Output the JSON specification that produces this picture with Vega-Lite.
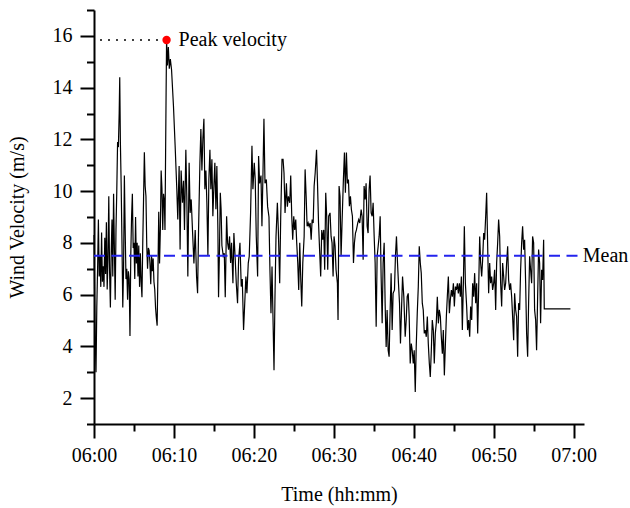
{
"$schema": "https://vega.github.io/schema/vega-lite/v6.json",
"width": 490, "height": 414,
"autosize": "none",
"padding": {"left": 94, "top": 10, "right": 46, "bottom": 84},
"background": "white",
"config": {
  "font": "Liberation Serif",
  "view": {"stroke": null},
  "axis": {"grid": false, "domainColor": "black", "domainWidth": 2, "tickColor": "black", "tickWidth": 2, "labelColor": "black", "titleColor": "black", "labelFont": "Liberation Serif", "titleFont": "Liberation Serif", "labelFontSize": 20, "titleFontSize": 20, "titleFontWeight": "normal"}
},
"datasets": {
"wind": [
{"t":0.00,"v":8.3},{"t":0.08,"v":6.0},{"t":0.15,"v":4.4},{"t":0.25,"v":3.0},{"t":0.35,"v":5.5},{"t":0.45,"v":7.0},{"t":0.55,"v":8.9},{"t":0.65,"v":6.7},{"t":0.75,"v":7.5},{"t":0.85,"v":6.3},{"t":0.95,"v":8.4},{"t":1.05,"v":6.5},{"t":1.15,"v":7.1},{"t":1.25,"v":6.3},{"t":1.35,"v":8.2},{"t":1.45,"v":6.8},{"t":1.55,"v":8.8},{"t":1.65,"v":6.2},{"t":1.75,"v":7.4},{"t":1.85,"v":9.8},{"t":1.95,"v":6.9},{"t":2.05,"v":5.5},{"t":2.15,"v":7.6},{"t":2.25,"v":8.9},{"t":2.35,"v":6.7},{"t":2.45,"v":9.9},{"t":2.55,"v":7.8},{"t":2.65,"v":5.8},{"t":2.75,"v":8.5},{"t":2.85,"v":10.0},{"t":2.95,"v":11.9},{"t":3.05,"v":11.7},{"t":3.15,"v":13.0},{"t":3.22,"v":14.4},{"t":3.30,"v":11.9},{"t":3.40,"v":10.2},{"t":3.50,"v":8.0},{"t":3.60,"v":5.5},{"t":3.70,"v":7.0},{"t":3.80,"v":10.6},{"t":3.90,"v":8.5},{"t":4.00,"v":6.6},{"t":4.10,"v":7.0},{"t":4.20,"v":5.8},{"t":4.30,"v":6.9},{"t":4.40,"v":6.6},{"t":4.50,"v":4.4},{"t":4.60,"v":7.5},{"t":4.70,"v":9.0},{"t":4.80,"v":9.9},{"t":4.90,"v":7.8},{"t":5.00,"v":8.0},{"t":5.10,"v":6.6},{"t":5.20,"v":9.0},{"t":5.30,"v":7.2},{"t":5.40,"v":8.0},{"t":5.50,"v":6.7},{"t":5.60,"v":7.9},{"t":5.70,"v":6.3},{"t":5.80,"v":7.6},{"t":5.90,"v":6.5},{"t":6.00,"v":5.9},{"t":6.10,"v":8.0},{"t":6.20,"v":9.7},{"t":6.30,"v":11.5},{"t":6.40,"v":10.2},{"t":6.50,"v":9.8},{"t":6.60,"v":7.9},{"t":6.70,"v":7.0},{"t":6.80,"v":7.8},{"t":6.90,"v":7.7},{"t":7.00,"v":7.2},{"t":7.10,"v":6.4},{"t":7.20,"v":7.5},{"t":7.30,"v":6.9},{"t":7.40,"v":7.4},{"t":7.50,"v":6.5},{"t":7.60,"v":6.2},{"t":7.70,"v":5.5},{"t":7.80,"v":5.1},{"t":7.90,"v":4.8},{"t":8.00,"v":6.9},{"t":8.10,"v":9.2},{"t":8.20,"v":7.2},{"t":8.30,"v":8.5},{"t":8.40,"v":10.8},{"t":8.50,"v":10.1},{"t":8.60,"v":8.5},{"t":8.70,"v":9.9},{"t":8.80,"v":9.6},{"t":8.88,"v":8.5},{"t":8.96,"v":11.6},{"t":9.02,"v":13.8},{"t":9.08,"v":15.84},
{"t":9.18,"v":14.86},{"t":9.30,"v":15.57},{"t":9.42,"v":14.73},{"t":9.55,"v":15.1},{"t":9.70,"v":14.7},{"t":9.94,"v":13.3},{"t":10.15,"v":11.75},{"t":10.36,"v":10.07},{"t":10.48,"v":8.9},{"t":10.65,"v":10.97},{"t":10.77,"v":7.74},{"t":10.90,"v":10.8},{"t":11.07,"v":9.55},{"t":11.20,"v":10.4},{"t":11.32,"v":8.5},{"t":11.49,"v":11.6},{"t":11.61,"v":9.8},{"t":11.74,"v":6.7},{"t":11.90,"v":11.1},{"t":12.03,"v":9.16},{"t":12.16,"v":9.68},{"t":12.32,"v":8.5},{"t":12.50,"v":7.2},{"t":12.66,"v":8.5},{"t":12.83,"v":6.7},{"t":12.96,"v":6.05},{"t":13.08,"v":8.5},{"t":13.25,"v":11.1},{"t":13.37,"v":12.4},{"t":13.50,"v":10.8},{"t":13.62,"v":12.0},{"t":13.75,"v":12.8},{"t":13.87,"v":10.07},{"t":14.00,"v":10.8},{"t":14.12,"v":9.55},{"t":14.25,"v":7.5},{"t":14.37,"v":10.45},{"t":14.50,"v":11.6},{"t":14.62,"v":10.07},{"t":14.75,"v":11.23},{"t":14.87,"v":9.03},{"t":15.00,"v":10.2},{"t":15.12,"v":11.1},{"t":15.25,"v":9.3},{"t":15.37,"v":10.97},{"t":15.50,"v":8.5},{"t":15.58,"v":5.9},{"t":15.70,"v":7.74},{"t":15.80,"v":9.94},{"t":15.90,"v":9.3},{"t":16.00,"v":7.9},{"t":16.17,"v":7.5},{"t":16.30,"v":7.6},{"t":16.42,"v":5.9},{"t":16.59,"v":9.03},{"t":16.71,"v":8.0},{"t":16.84,"v":7.74},{"t":16.96,"v":8.25},{"t":17.09,"v":7.22},{"t":17.21,"v":8.0},{"t":17.38,"v":6.44},{"t":17.50,"v":8.38},{"t":17.67,"v":7.35},{"t":17.80,"v":6.44},{"t":17.96,"v":5.67},{"t":18.09,"v":7.35},{"t":18.26,"v":8.0},{"t":18.42,"v":6.31},
{"t":18.55,"v":6.6},{"t":18.71,"v":4.63},{"t":18.84,"v":5.54},{"t":19.00,"v":6.7},{"t":19.13,"v":6.05},{"t":19.30,"v":7.22},{"t":19.42,"v":7.48},{"t":19.59,"v":9.16},{"t":19.76,"v":11.75},{"t":19.88,"v":10.07},{"t":20.05,"v":11.1},{"t":20.17,"v":10.45},{"t":20.30,"v":8.25},{"t":20.47,"v":6.7},{"t":20.59,"v":11.36},{"t":20.72,"v":10.3},{"t":20.89,"v":10.6},{"t":21.01,"v":8.64},{"t":21.14,"v":10.7},{"t":21.26,"v":12.8},{"t":21.39,"v":10.3},{"t":21.56,"v":10.45},{"t":21.72,"v":9.4},{"t":21.89,"v":9.0},{"t":22.01,"v":6.96},{"t":22.14,"v":5.28},{"t":22.27,"v":7.09},{"t":22.39,"v":5.15},{"t":22.52,"v":3.08},{"t":22.64,"v":5.92},{"t":22.77,"v":8.25},{"t":22.94,"v":9.55},{"t":23.06,"v":8.5},{"t":23.23,"v":6.44},{"t":23.36,"v":9.03},{"t":23.52,"v":11.23},{"t":23.65,"v":11.23},{"t":23.77,"v":10.7},{"t":23.90,"v":9.16},{"t":24.07,"v":10.3},{"t":24.19,"v":9.4},{"t":24.32,"v":9.8},{"t":24.49,"v":9.55},{"t":24.61,"v":10.6},{"t":24.74,"v":9.03},{"t":24.86,"v":8.12},{"t":24.99,"v":9.03},{"t":25.11,"v":8.5},{"t":25.24,"v":8.9},{"t":25.36,"v":8.0},{"t":25.49,"v":7.22},{"t":25.61,"v":6.18},{"t":25.74,"v":8.0},{"t":25.87,"v":6.57},{"t":25.99,"v":5.54},{"t":26.12,"v":7.22},{"t":26.29,"v":8.25},{"t":26.41,"v":10.84},{"t":26.54,"v":9.8},{"t":26.66,"v":8.64},{"t":26.79,"v":8.77},{"t":26.91,"v":8.64},{"t":27.04,"v":8.77},{"t":27.17,"v":8.12},{"t":27.29,"v":8.9},{"t":27.42,"v":8.77},{"t":27.54,"v":10.2},{"t":27.67,"v":10.7},{"t":27.84,"v":11.6},{"t":27.96,"v":10.3},{"t":28.09,"v":8.77},
{"t":28.24,"v":7.6},{"t":28.36,"v":6.7},{"t":28.49,"v":8.5},{"t":28.61,"v":8.12},{"t":28.74,"v":8.5},{"t":28.86,"v":6.96},{"t":28.99,"v":9.94},{"t":29.11,"v":9.03},{"t":29.24,"v":6.96},{"t":29.36,"v":9.03},{"t":29.53,"v":9.16},{"t":29.66,"v":8.25},{"t":29.78,"v":8.0},{"t":29.91,"v":6.7},{"t":30.03,"v":8.25},{"t":30.16,"v":7.87},{"t":30.28,"v":6.96},{"t":30.45,"v":6.44},{"t":30.53,"v":5.02},{"t":30.66,"v":10.2},{"t":30.78,"v":9.8},{"t":30.91,"v":7.48},{"t":31.03,"v":8.77},{"t":31.20,"v":10.45},{"t":31.33,"v":11.49},{"t":31.45,"v":9.94},{"t":31.58,"v":11.49},{"t":31.70,"v":10.3},{"t":31.83,"v":10.45},{"t":31.95,"v":9.42},{"t":32.08,"v":9.8},{"t":32.20,"v":9.29},{"t":32.33,"v":9.03},{"t":32.46,"v":7.22},{"t":32.58,"v":8.0},{"t":32.71,"v":8.38},{"t":32.83,"v":8.5},{"t":33.00,"v":8.77},{"t":33.12,"v":8.9},{"t":33.25,"v":8.77},{"t":33.42,"v":9.29},{"t":33.54,"v":9.03},{"t":33.67,"v":7.35},{"t":33.79,"v":10.2},{"t":33.92,"v":9.68},{"t":34.04,"v":10.3},{"t":34.17,"v":8.64},{"t":34.29,"v":8.38},{"t":34.42,"v":10.07},{"t":34.54,"v":10.6},{"t":34.67,"v":9.16},{"t":34.80,"v":9.03},{"t":34.92,"v":9.55},{"t":35.05,"v":8.25},{"t":35.17,"v":7.22},{"t":35.30,"v":4.76},{"t":35.42,"v":7.48},{"t":35.55,"v":7.87},{"t":35.67,"v":8.25},{"t":35.80,"v":9.03},{"t":35.92,"v":6.7},{"t":36.05,"v":4.89},{"t":36.17,"v":7.22},{"t":36.30,"v":8.0},{"t":36.42,"v":5.67},{"t":36.55,"v":3.98},{"t":36.67,"v":5.41},{"t":36.80,"v":3.85},{"t":36.92,"v":3.6},{"t":37.05,"v":5.41},{"t":37.17,"v":6.83},{"t":37.30,"v":4.63},{"t":37.42,"v":6.05},
{"t":37.59,"v":6.18},{"t":37.71,"v":7.48},{"t":37.84,"v":8.25},{"t":37.97,"v":7.22},{"t":38.09,"v":6.44},{"t":38.22,"v":5.67},{"t":38.34,"v":4.11},{"t":38.47,"v":5.41},{"t":38.60,"v":6.7},{"t":38.76,"v":5.92},{"t":38.93,"v":4.37},{"t":39.06,"v":5.02},{"t":39.18,"v":5.92},{"t":39.31,"v":6.05},{"t":39.43,"v":5.15},{"t":39.56,"v":3.34},{"t":39.69,"v":4.11},{"t":39.81,"v":3.85},{"t":39.94,"v":3.34},{"t":40.06,"v":3.85},{"t":40.19,"v":2.24},{"t":40.31,"v":3.98},{"t":40.44,"v":5.28},{"t":40.57,"v":6.31},{"t":40.69,"v":7.87},{"t":40.82,"v":7.22},{"t":40.94,"v":6.83},{"t":41.07,"v":5.67},{"t":41.19,"v":5.41},{"t":41.32,"v":4.5},{"t":41.44,"v":4.63},{"t":41.57,"v":4.37},{"t":41.70,"v":5.15},{"t":41.82,"v":4.11},{"t":41.95,"v":3.34},{"t":42.07,"v":2.82},{"t":42.20,"v":3.85},{"t":42.32,"v":5.02},{"t":42.45,"v":4.63},{"t":42.57,"v":3.34},{"t":42.70,"v":4.5},{"t":42.82,"v":4.89},{"t":42.95,"v":5.92},{"t":43.08,"v":4.89},{"t":43.20,"v":5.41},{"t":43.33,"v":5.15},{"t":43.45,"v":4.37},{"t":43.58,"v":3.72},{"t":43.70,"v":4.63},{"t":43.83,"v":2.88},{"t":43.95,"v":3.98},{"t":44.08,"v":5.15},{"t":44.20,"v":5.92},{"t":44.33,"v":6.7},{"t":44.46,"v":5.28},{"t":44.58,"v":5.8},{"t":44.71,"v":6.18},{"t":44.83,"v":5.92},{"t":44.96,"v":6.44},{"t":45.08,"v":5.54},{"t":45.21,"v":6.31},{"t":45.33,"v":6.18},{"t":45.46,"v":6.44},{"t":45.58,"v":6.05},{"t":45.71,"v":6.44},{"t":45.83,"v":5.92},{"t":45.96,"v":6.7},{"t":46.08,"v":4.63},{"t":46.21,"v":6.44},{"t":46.33,"v":8.64},{"t":46.46,"v":6.44},
{"t":46.62,"v":5.54},{"t":46.74,"v":4.63},{"t":46.87,"v":5.02},{"t":47.00,"v":4.37},{"t":47.12,"v":5.54},{"t":47.25,"v":5.02},{"t":47.37,"v":6.44},{"t":47.50,"v":5.92},{"t":47.62,"v":6.83},{"t":47.75,"v":5.67},{"t":47.87,"v":6.44},{"t":48.00,"v":4.5},{"t":48.12,"v":6.18},{"t":48.25,"v":8.25},{"t":48.37,"v":7.22},{"t":48.50,"v":6.7},{"t":48.62,"v":7.35},{"t":48.75,"v":8.38},{"t":48.87,"v":8.12},{"t":49.00,"v":9.03},{"t":49.12,"v":9.94},{"t":49.25,"v":7.87},{"t":49.37,"v":6.05},{"t":49.50,"v":7.22},{"t":49.62,"v":6.44},{"t":49.75,"v":6.7},{"t":49.87,"v":6.18},{"t":50.00,"v":6.44},{"t":50.12,"v":6.96},{"t":50.25,"v":5.41},{"t":50.37,"v":7.22},{"t":50.50,"v":8.0},{"t":50.62,"v":8.9},{"t":50.75,"v":8.25},{"t":50.87,"v":6.44},{"t":51.00,"v":5.54},{"t":51.12,"v":7.22},{"t":51.25,"v":6.7},{"t":51.37,"v":6.18},{"t":51.50,"v":6.44},{"t":51.62,"v":7.22},{"t":51.75,"v":7.87},{"t":51.87,"v":6.57},{"t":52.00,"v":6.18},{"t":52.12,"v":6.44},{"t":52.25,"v":5.92},{"t":52.37,"v":5.15},{"t":52.50,"v":4.24},{"t":52.62,"v":6.05},{"t":52.75,"v":5.41},{"t":52.87,"v":5.15},{"t":53.00,"v":3.6},{"t":53.12,"v":5.67},{"t":53.25,"v":5.41},{"t":53.37,"v":6.96},{"t":53.50,"v":8.0},{"t":53.62,"v":8.64},{"t":53.75,"v":7.74},{"t":53.87,"v":8.12},{"t":54.00,"v":6.44},{"t":54.12,"v":4.5},{"t":54.25,"v":3.6},{"t":54.37,"v":5.67},{"t":54.50,"v":7.48},{"t":54.62,"v":6.96},{"t":54.75,"v":6.44},{"t":54.87,"v":8.25},{"t":55.00,"v":8.0},{"t":55.12,"v":5.41},{"t":55.25,"v":5.02},{"t":55.37,"v":3.85},{"t":55.50,"v":5.92},{"t":55.62,"v":7.74},{"t":55.75,"v":7.22},{"t":55.87,"v":4.89},{"t":56.00,"v":6.96},{"t":56.12,"v":6.57},{"t":56.25,"v":8.12},{"t":56.33,"v":5.45},{"t":59.60,"v":5.45}
],
"mean": [{"t": 0, "t2": 60.8, "v": 7.5}],
"meanLabel": [{"t": 61.15, "v": 7.5, "label": "Mean"}],
"peakLine": [{"t": 0.75, "t2": 9.08, "v": 15.84}],
"peak": [{"t": 9.08, "v": 15.84, "label": "Peak velocity"}]
},
"encoding": {
  "x": {"field": "t", "type": "quantitative",
    "scale": {"domain": [0, 61.3], "nice": false, "zero": false},
    "axis": {"values": [0,5,10,15,20,25,30,35,40,45,50,55,60], "title": "Time (hh:mm)",
      "labelExpr": "datum.value % 10 != 0 ? '' : (datum.value == 60 ? '07:00' : '06:' + (datum.value < 10 ? '0' : '') + datum.value)",
      "tickSize": {"condition": {"test": "datum.value % 10 == 0", "value": 14}, "value": 7},
      "labelPadding": 7, "titlePadding": 19, "labelFlush": false, "labelOverlap": false}},
  "y": {"field": "v", "type": "quantitative",
    "scale": {"domain": [1, 17], "nice": false, "zero": false},
    "axis": {"values": [1,2,3,4,5,6,7,8,9,10,11,12,13,14,15,16,17], "title": "Wind Velocity (m/s)",
      "labelExpr": "datum.value % 2 == 0 ? datum.label : ''",
      "tickSize": {"condition": {"test": "datum.value % 2 == 0", "value": 14}, "value": 7.5},
      "labelPadding": 8, "titlePadding": 25, "labelOverlap": false}}
},
"layer": [
  {"data": {"name": "wind"}, "mark": {"type": "line", "color": "black", "strokeWidth": 1.2, "interpolate": "linear"}},
  {"data": {"name": "mean"}, "mark": {"type": "rule", "color": "#2323ee", "strokeWidth": 2, "strokeDash": [11, 6.5]}, "encoding": {"x2": {"field": "t2"}}},
  {"data": {"name": "meanLabel"}, "mark": {"type": "text", "align": "left", "baseline": "middle", "fontSize": 20, "font": "Liberation Serif", "color": "black"}, "encoding": {"text": {"field": "label"}}},
  {"data": {"name": "peakLine"}, "mark": {"type": "rule", "color": "black", "strokeWidth": 1.5, "strokeDash": [2, 6]}, "encoding": {"x2": {"field": "t2"}}},
  {"data": {"name": "peak"}, "mark": {"type": "point", "filled": true, "color": "#ff0000", "size": 70, "opacity": 1}},
  {"data": {"name": "peak"}, "mark": {"type": "text", "align": "left", "baseline": "middle", "dx": 12, "fontSize": 20, "font": "Liberation Serif", "color": "black"}, "encoding": {"text": {"field": "label"}}}
]
}
